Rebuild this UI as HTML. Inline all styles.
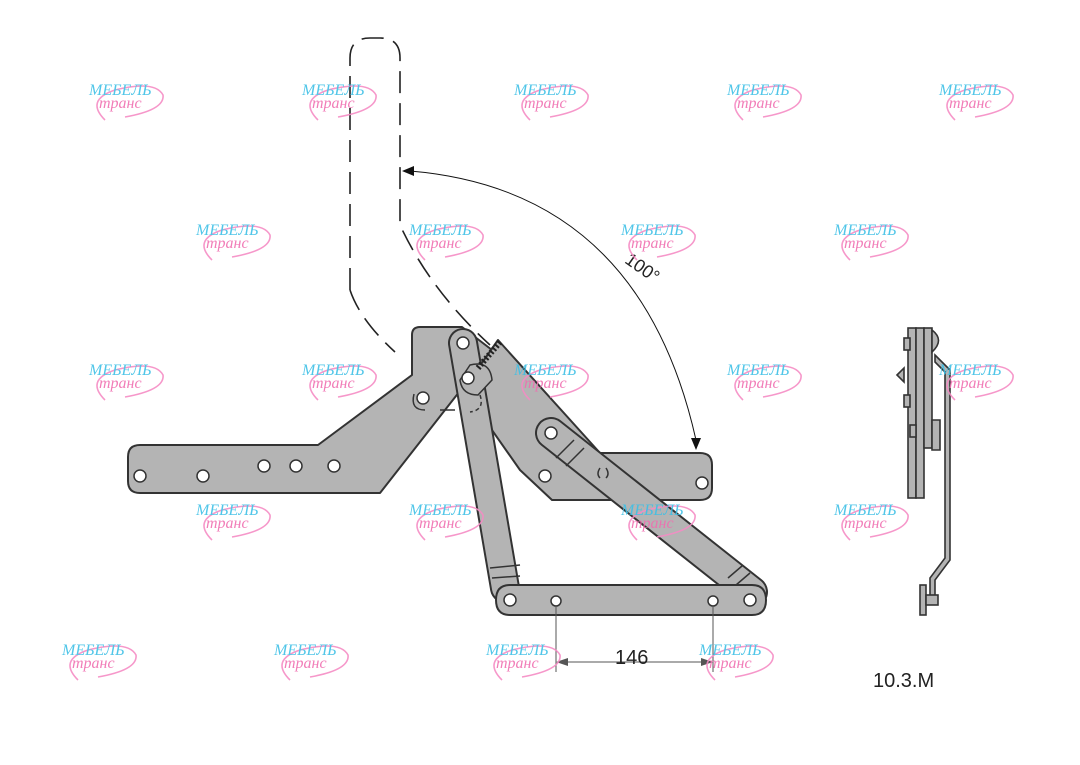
<!DOCTYPE html>
<html><head><meta charset="utf-8"><style>
html,body{margin:0;padding:0;background:#fff;width:1080px;height:765px;overflow:hidden}
svg{display:block}
.wm1{font-family:"Liberation Serif",serif;font-style:italic;font-size:16px;fill:#3ec0e6}
.wm2{font-family:"Liberation Serif",serif;font-style:italic;font-size:16px;fill:#f06fb0}
</style></head><body>
<svg width="1080" height="765" viewBox="0 0 1080 765" xmlns="http://www.w3.org/2000/svg">
<defs>
<g id="wm">
<path d="M-20,25 Q-40,5 -10,-5 Q30,-15 38,0 Q40,15 0,22" fill="none" stroke="#f58cc4" stroke-width="1.6"/>
<text x="-36" y="0" class="wm1">МЕБЕЛЬ</text>
<text x="-26" y="13" class="wm2">транс</text>
</g>
</defs>
<!-- dashed lid -->
<g fill="none" stroke="#222" stroke-width="1.6" stroke-dasharray="22,10">
<path d="M350,290 L350,58 Q350,38 370,38 L380,38 Q400,38 400,58 L400,225 Q430,290 490,345"/>
<path d="M350,290 Q360,320 395,352"/>
</g>
<!-- angle arc -->
<path d="M410,171 Q640,190 696,440" fill="none" stroke="#111" stroke-width="1"/>
<polygon points="402,171 414,166 414,176" fill="#111"/>
<polygon points="696,450 691,438 701,438" fill="#111"/>
<text x="625" y="272" font-family="Liberation Sans,sans-serif" font-size="18" fill="#222" transform="rotate(35 640 265)">100°</text>
<!-- parts -->
<g fill="#b4b4b4" stroke="#333" stroke-width="2" stroke-linejoin="round">
<path d="M140,445 L318,445 L412,375 L412,335 Q412,327 420,327 L462,327 L492,350 L380,493 L140,493 Q128,493 128,481 L128,457 Q128,445 140,445 Z"/>
<path d="M498,340 L600,453 L700,453 Q712,453 712,465 L712,488 Q712,500 700,500 L552,500 L520,470 L480,413 L470,380 Z"/>
</g>
<!-- diagonal arm -->
<line x1="551" y1="433" x2="752" y2="592" stroke="#333" stroke-width="32" stroke-linecap="round"/>
<line x1="551" y1="433" x2="752" y2="592" stroke="#b4b4b4" stroke-width="28" stroke-linecap="round"/>
<!-- long arm -->
<line x1="463" y1="343" x2="505" y2="588" stroke="#333" stroke-width="30" stroke-linecap="round"/>
<line x1="463" y1="343" x2="505" y2="588" stroke="#b4b4b4" stroke-width="26" stroke-linecap="round"/>
<path d="M470,365 Q490,360 492,380 L478,395 Q462,395 460,380 Z" fill="#b4b4b4" stroke="#333" stroke-width="1.5"/>
<path d="M510,585 L752,585 Q766,585 766,600 Q766,615 752,615 L510,615 Q496,615 496,600 Q496,585 510,585 Z" fill="#b4b4b4" stroke="#333" stroke-width="2"/>
<g fill="none" stroke="#333" stroke-width="1.5">
<path d="M490,568 L520,565"/><path d="M492,578 L520,576"/>
<path d="M728,578 L742,566"/><path d="M736,585 L750,573"/>
<path d="M556,458 L574,440"/><path d="M566,466 L584,448"/>
<path d="M414,394 Q410,410 425,410"/><path d="M440,410 L455,410"/>
<path d="M480,395 Q485,410 470,412" stroke-dasharray="4,3"/>
<path d="M600,468 Q596,474 600,478"/><path d="M606,468 Q610,474 606,478"/>
</g>
<path d="M478,368 L500,342" stroke="#222" stroke-width="6" stroke-dasharray="2,2"/>
<g fill="#fff" stroke="#333" stroke-width="1.5">
<circle cx="140" cy="476" r="6"/><circle cx="203" cy="476" r="6"/><circle cx="264" cy="466" r="6"/><circle cx="296" cy="466" r="6"/><circle cx="334" cy="466" r="6"/><circle cx="423" cy="398" r="6"/>
<circle cx="463" cy="343" r="6"/><circle cx="468" cy="378" r="6"/>
<circle cx="551" cy="433" r="6"/><circle cx="545" cy="476" r="6"/><circle cx="702" cy="483" r="6"/>
<circle cx="510" cy="600" r="6"/><circle cx="556" cy="601" r="5"/><circle cx="713" cy="601" r="5"/><circle cx="750" cy="600" r="6"/>
</g>
<!-- dimension -->
<g stroke="#555" stroke-width="1">
<line x1="556" y1="606" x2="556" y2="672"/><line x1="713" y1="606" x2="713" y2="672"/>
<line x1="566" y1="662" x2="703" y2="662"/>
</g>
<polygon points="556,662 568,658 568,666" fill="#555"/><polygon points="713,662 701,658 701,666" fill="#555"/>
<text x="615" y="664" font-family="Liberation Sans,sans-serif" font-size="20" fill="#222">146</text>
<text x="873" y="687" font-family="Liberation Sans,sans-serif" font-size="20" fill="#222">10.3.M</text>
<!-- side view -->
<g fill="#b4b4b4" stroke="#333" stroke-width="1.6">
<rect x="908" y="328" width="8" height="170"/><rect x="916" y="328" width="8" height="170"/><rect x="924" y="328" width="8" height="120"/>
<rect x="904" y="338" width="6" height="12"/><rect x="904" y="395" width="6" height="12"/><rect x="910" y="425" width="6" height="12"/>
<path d="M932,330 Q945,340 932,352 Z"/><path d="M932,420 L940,420 L940,450 L932,450 Z"/>
<path d="M935,355 L950,370 L950,560 L935,580 L935,600 L930,600 L930,578 L945,558 L945,372 L935,362 Z"/>
<polygon points="897,375 904,368 904,382"/>
<rect x="920" y="585" width="6" height="30"/><rect x="926" y="595" width="12" height="10"/>
</g>
<!-- watermarks -->
<g opacity="0.9">
<use href="#wm" x="125" y="95"/><use href="#wm" x="338" y="95"/><use href="#wm" x="550" y="95"/><use href="#wm" x="763" y="95"/><use href="#wm" x="975" y="95"/>
<use href="#wm" x="232" y="235"/><use href="#wm" x="445" y="235"/><use href="#wm" x="657" y="235"/><use href="#wm" x="870" y="235"/>
<use href="#wm" x="125" y="375"/><use href="#wm" x="338" y="375"/><use href="#wm" x="550" y="375"/><use href="#wm" x="763" y="375"/><use href="#wm" x="975" y="375"/>
<use href="#wm" x="232" y="515"/><use href="#wm" x="445" y="515"/><use href="#wm" x="657" y="515"/><use href="#wm" x="870" y="515"/>
<use href="#wm" x="98" y="655"/><use href="#wm" x="310" y="655"/><use href="#wm" x="522" y="655"/><use href="#wm" x="735" y="655"/>
</g>
</svg>
</body></html>
